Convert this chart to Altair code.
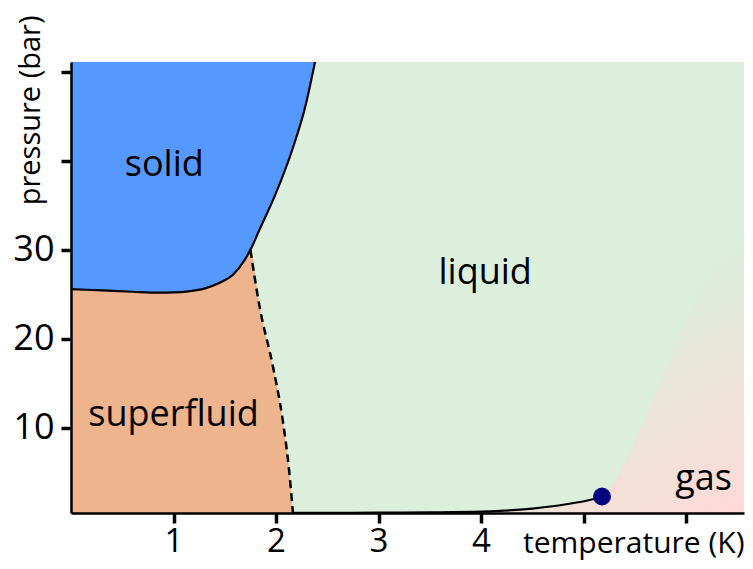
import altair as alt
import pandas as pd

# ---- axis ranges ----
T_MIN, T_MAX = 0.0, 6.565
P_MIN, P_MAX = 0.45, 51.1

# ---- melting curve (solid boundary) ----
melt_T = [0.0, 0.3, 0.6, 0.86, 1.0, 1.15, 1.3, 1.45, 1.58, 1.69, 1.75, 1.84, 2.0, 2.16, 2.29, 2.38]
melt_P = [25.6, 25.45, 25.3, 25.2, 25.22, 25.35, 25.65, 26.3, 27.2, 28.8, 30.0, 32.3, 36.4, 41.3, 46.3, 51.1]

# ---- lambda line (superfluid boundary, dashed) ----
lambda_T = [1.75, 1.84, 1.97, 2.065, 2.13, 2.165]
lambda_P = [30.0, 23.6, 16.9, 10.9, 4.95, 0.46]

# ---- vapour pressure curve ----
vapor_T = [2.165, 2.5, 3.0, 3.5, 4.0, 4.18, 4.5, 4.83, 5.09, 5.18]
vapor_P = [0.46, 0.47, 0.49, 0.52, 0.6, 0.68, 0.95, 1.43, 2.0, 2.3]

# ---- supercritical fade boundary ----
super_T = [5.18, 5.3, 5.5, 5.7, 5.9, 6.1, 6.35, 6.565]
super_P = [2.3, 4.0, 8.5, 13.8, 19.2, 24.5, 31.5, 39.0]

# ---- critical point ----
crit_T = [5.18]
crit_P = [2.3]

# ---- region labels ----
label_text = ["solid", "liquid", "superfluid", "gas"]
label_T = [0.91, 4.04, 1.0, 6.17]
label_P = [39.5, 27.4, 11.5, 4.3]

# ---- tick values ----
x_ticks = [1, 2, 3, 4, 5, 6]
y_ticks = [10, 20, 30, 40, 50]

BLUE = "#5599ff"
ORANGE = "#eeb48e"
GREEN = "#dcefdc"
PINK = "#fed9d7"
FONT = "Open Sans"

melt = pd.DataFrame({"T": melt_T, "P": melt_P, "top": P_MAX})
n_sf = melt_T.index(lambda_T[0])
sf = pd.DataFrame({"T": melt_T[:n_sf] + lambda_T, "P": P_MIN, "top": melt_P[:n_sf] + lambda_P})
lam = pd.DataFrame({"T": lambda_T, "P": lambda_P})
vap = pd.DataFrame({"T": vapor_T, "P": vapor_P})
gas = pd.DataFrame({"T": vapor_T + super_T[1:], "P": P_MIN, "top": vapor_P + super_P[1:]})
crit = pd.DataFrame({"T": crit_T, "P": crit_P})
labels = pd.DataFrame({"T": label_T, "P": label_P, "text": label_text})

x_axis = alt.Axis(
    values=x_ticks, labelExpr="datum.value <= 4 ? datum.label : ''",
    title="temperature (K)", titleX=673, titleY=39, titleAlign="right",
    titleBaseline="alphabetic", titleFontSize=30, titleFontWeight="normal",
    titleFont=FONT, labelFont=FONT, labelFontSize=33, labelPadding=28,
    labelBaseline="alphabetic",
    labelColor="black", tickSize=10, tickWidth=3.5, tickColor="black",
    domainColor="black", domainWidth=2.5, grid=False, zindex=1,
)
y_axis = alt.Axis(
    values=y_ticks, labelExpr="datum.value <= 30 ? datum.label : ''",
    title="pressure (bar)", titleX=-31.5, titleY=-47, titleAngle=270,
    titleAlign="right", titleBaseline="alphabetic", titleFontSize=29,
    titleFontWeight="normal", titleFont=FONT, labelFont=FONT, labelFontSize=36,
    labelPadding=7, labelColor="black", tickSize=10, tickWidth=3.5,
    tickColor="black", domainColor="black", domainWidth=2.5, grid=False, zindex=1,
)
X = alt.X("T:Q", scale=alt.Scale(domain=[T_MIN, T_MAX], nice=False, zero=False), axis=x_axis)
Y = alt.Y("P:Q", scale=alt.Scale(domain=[P_MIN, P_MAX], nice=False, zero=False), axis=y_axis)

superfluid = alt.Chart(sf).mark_area(color=ORANGE, opacity=1, interpolate="monotone").encode(x=X, y=Y, y2="top:Q")
solid = alt.Chart(melt).mark_area(color=BLUE, opacity=1, interpolate="monotone").encode(x=X, y=Y, y2="top:Q")
gas_area = alt.Chart(gas).mark_area(
    opacity=1, interpolate="monotone", clip=True,
    color=alt.Gradient(
        gradient="linear",
        stops=[alt.GradientStop(color=GREEN, offset=0), alt.GradientStop(color=PINK, offset=1)],
        x1=0.62, y1=0.45, x2=1, y2=1,
    ),
).encode(x=X, y=Y, y2="top:Q")

melt_line = alt.Chart(melt).mark_line(color="black", strokeWidth=2.2, interpolate="monotone").encode(x=X, y=Y)
lambda_line = alt.Chart(lam).mark_line(color="black", strokeWidth=2.5, strokeDash=[8, 5], interpolate="monotone").encode(x=X, y=Y)
vapor_line = alt.Chart(vap).mark_line(color="black", strokeWidth=2.2, interpolate="monotone").encode(x=X, y=Y)
crit_pt = alt.Chart(crit).mark_circle(size=320, color="#000080", opacity=1).encode(x=X, y=Y)
texts = alt.Chart(labels).mark_text(
    font=FONT, fontSize=36, color="black", baseline="middle", align="center"
).encode(x=X, y=Y, text="text:N")

chart = alt.layer(
    superfluid, solid, gas_area, melt_line, lambda_line, vapor_line, crit_pt, texts
).properties(
    width=673, height=451,
    padding={"left": 63, "top": 54, "right": 1, "bottom": 48},
    autosize=alt.AutoSizeParams(type="none"),
).configure(font=FONT).configure_view(fill=GREEN, stroke=None)

chart.save("out.html", embed_options={"renderer": "svg", "actions": False})
